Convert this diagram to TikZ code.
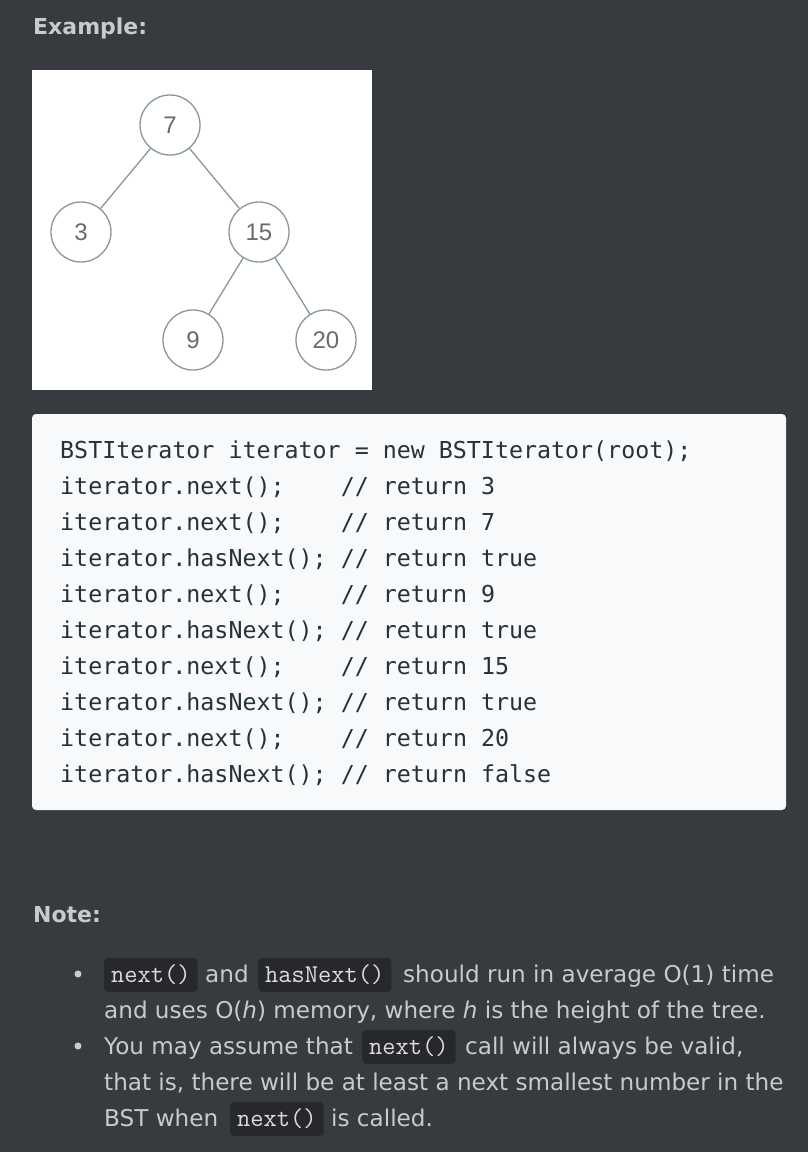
\documentclass[tikz,border=0pt]{standalone}
\usepackage{fontspec}
\setmainfont{DejaVu Sans}
\newfontfamily\codefont{DejaVu Sans Mono}
\newfontfamily\treefont{Liberation Sans}
\setmonofont{Latin Modern Mono}
\definecolor{bg}{HTML}{373A3F}
\definecolor{bodycol}{HTML}{C8CACD}
\definecolor{codebg}{HTML}{F7F9FA}
\definecolor{codecol}{HTML}{263238}
\definecolor{inlinebg}{HTML}{26282C}
\definecolor{inlinecol}{HTML}{DCDCDC}
\definecolor{treeline}{HTML}{8797A2}
\definecolor{treetext}{HTML}{6A6A6A}
\tikzset{
  heading/.style={anchor=base west, inner sep=0pt, text=bodycol, font=\fontsize{22}{26}\selectfont\bfseries},
  body/.style={anchor=base west, inner sep=0pt, text=bodycol, font=\fontsize{23.1}{28}\selectfont},
  codeline/.style={anchor=base west, inner sep=0pt, text=codecol, font=\codefont\fontsize{23.3}{28}\selectfont},
  inlinebox/.style={anchor=base west, fill=inlinebg, rounded corners=4pt, text=inlinecol,
    inner xsep=7pt, inner ysep=7pt, text height=17pt, text depth=3pt,
    font=\ttfamily\fontsize{25.7}{28}\selectfont},
  treenode/.style={circle, draw=treeline, line width=1.3pt, fill=white, minimum size=60pt,
    inner sep=0pt, text=treetext, font=\treefont\fontsize{24}{28}\selectfont},
  treeedge/.style={draw=treeline, line width=1.3pt},
  bullet/.style={circle, fill=bodycol, inner sep=0pt, minimum size=7pt}
}
\begin{document}
\begin{tikzpicture}[x=1pt,y=-1pt]
\useasboundingbox (0,0) rectangle (808,1152);
\fill[bg] (0,0) rectangle (808,1152);

% heading
\node[heading] (example) at (33,34) {Example:};

% tree panel
\fill[white] (32,70) rectangle (372,390);
\node[treenode] (n7) at (170,125) {7};
\node[treenode] (n3) at (81,232) {3};
\node[treenode] (n15) at (259,232) {15};
\node[treenode] (n9) at (193,340) {9};
\node[treenode] (n20) at (326,340) {20};
\draw[treeedge] (n7) -- (n3);
\draw[treeedge] (n7) -- (n15);
\draw[treeedge] (n15) -- (n9);
\draw[treeedge] (n15) -- (n20);

% code block
\fill[codebg, rounded corners=4pt] (32,414) rectangle (786,810);
\node[codeline] (l1) at (60,458) {BSTIterator iterator = new BSTIterator(root);};
\node[codeline] (l2) at (60,494) {iterator.next();};
\node[codeline] (c2) at (340.6,494) {// return 3};
\node[codeline] (l3) at (60,530) {iterator.next();};
\node[codeline] (c3) at (340.6,530) {// return 7};
\node[codeline] (l4) at (60,566) {iterator.hasNext();};
\node[codeline] (c4) at (340.6,566) {// return true};
\node[codeline] (l5) at (60,602) {iterator.next();};
\node[codeline] (c5) at (340.6,602) {// return 9};
\node[codeline] (l6) at (60,638) {iterator.hasNext();};
\node[codeline] (c6) at (340.6,638) {// return true};
\node[codeline] (l7) at (60,674) {iterator.next();};
\node[codeline] (c7) at (340.6,674) {// return 15};
\node[codeline] (l8) at (60,710) {iterator.hasNext();};
\node[codeline] (c8) at (340.6,710) {// return true};
\node[codeline] (l9) at (60,746) {iterator.next();};
\node[codeline] (c9) at (340.6,746) {// return 20};
\node[codeline] (l10) at (60,782) {iterator.hasNext();};
\node[codeline] (c10) at (340.6,782) {// return false};

% note
\node[heading] (note) at (33,922) {Note:};
\node[bullet] (b1) at (78,974) {};
\node[bullet] (b2) at (78,1046) {};

\node[inlinebox] (i1) at (104,982) {next()};
\node[body] (t1a) at (205,982) {and};
\node[inlinebox] (i2) at (258,982) {hasNext()};
\node[body] (t1b) at (403,982) {should run in average O(1) time};
\node[body] (t2) at (104,1018) {and uses O(\textit{h}) memory, where \textit{h} is the height of the tree.};
\node[body] (t3a) at (104,1054) {You may assume that};
\node[inlinebox] (i3) at (362,1054) {next()};
\node[body] (t3b) at (465,1054) {call will always be valid,};
\node[body] (t4) at (104,1090) {that is, there will be at least a next smallest number in the};
\node[body] (t5a) at (104,1126) {BST when};
\node[inlinebox] (i4) at (230,1126) {next()};
\node[body] (t5b) at (331,1126) {is called.};
\end{tikzpicture}
\end{document}
